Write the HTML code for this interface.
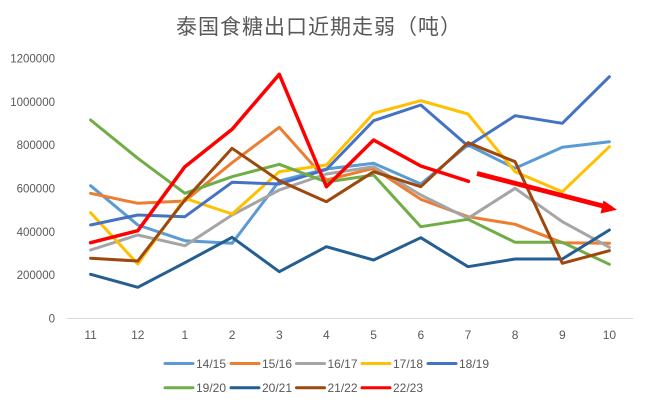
<!DOCTYPE html>
<html><head><meta charset="utf-8"><style>
html,body{margin:0;padding:0;background:#fff;}
svg{display:block;}
text{font-family:"Liberation Sans","Noto Sans CJK SC",sans-serif;fill:#595959;}
</style></head><body>
<svg width="649" height="407" viewBox="0 0 649 407" xmlns="http://www.w3.org/2000/svg">
<rect width="649" height="407" fill="#fff"/>
<text x="319" y="34" text-anchor="middle" font-size="21" letter-spacing="1" style="font-family:'Noto Sans CJK SC','WenQuanYi Zen Hei',sans-serif">泰国食糖出口近期走弱（吨）</text>
<g font-size="11.5" text-anchor="end">
<text x="55" y="322.5">0</text>
<text x="55" y="279.2">200000</text>
<text x="55" y="235.8">400000</text>
<text x="55" y="192.5">600000</text>
<text x="55" y="149.2">800000</text>
<text x="55" y="105.8">1000000</text>
<text x="55" y="62.5">1200000</text>
</g>
<line x1="67" y1="318.5" x2="633" y2="318.5" stroke="#D9D9D9" stroke-width="1"/>
<g font-size="12" text-anchor="middle">
<text x="90.6" y="339">11</text><text x="137.8" y="339">12</text><text x="184.9" y="339">1</text><text x="232.1" y="339">2</text><text x="279.3" y="339">3</text><text x="326.4" y="339">4</text><text x="373.6" y="339">5</text><text x="420.8" y="339">6</text><text x="468" y="339">7</text><text x="515.1" y="339">8</text><text x="562.3" y="339">9</text><text x="609.4" y="339">10</text>
</g>
<g fill="none" stroke-width="3" stroke-linejoin="round" stroke-linecap="round">
<polyline stroke="#5B9BD5" points="90.6,185.7 137.8,225 184.9,240.7 232.1,243.3 279.3,181 326.4,169 373.6,163.3 420.8,184 468,145 515.1,168.3 562.3,147.3 609.4,141.7"/>
<polyline stroke="#ED7D31" points="90.6,193.3 137.8,203.3 184.9,201 232.1,162.7 279.3,127.3 326.4,180 373.6,168.3 420.8,199.3 468,216.7 515.1,224.3 562.3,242.7 609.4,243.3"/>
<polyline stroke="#A5A5A5" points="90.6,250 137.8,235 184.9,245.7 232.1,215 279.3,190 326.4,174 373.6,166.7 420.8,195 468,218.3 515.1,188.3 562.3,221.7 609.4,247.3"/>
<polyline stroke="#FFC000" points="90.6,212.7 137.8,264 184.9,198.3 232.1,214 279.3,171.7 326.4,165 373.6,113.3 420.8,100.7 468,114 515.1,171.7 562.3,191.7 609.4,146.7"/>
<polyline stroke="#4472C4" points="90.6,225 137.8,215 184.9,216.7 232.1,182.3 279.3,184 326.4,169.5 373.6,120.7 420.8,105 468,146 515.1,115.7 562.3,123.3 609.4,76.7"/>
<polyline stroke="#70AD47" points="90.6,120 137.8,158.3 184.9,193.3 232.1,176.7 279.3,164.3 326.4,182 373.6,175 420.8,226.7 468,219.3 515.1,242.3 562.3,242.3 609.4,264.3"/>
<polyline stroke="#255E91" points="90.6,274.3 137.8,287.3 184.9,262.7 232.1,237.3 279.3,271.7 326.4,246.7 373.6,260 420.8,237.7 468,266.7 515.1,259 562.3,259 609.4,230"/>
<polyline stroke="#9E480E" points="90.6,258.3 137.8,261 184.9,200 232.1,148.3 279.3,180.7 326.4,201.7 373.6,171.7 420.8,186.7 468,142.7 515.1,161.7 562.3,263.3 609.4,250.7"/>
<polyline stroke="#FF0000" stroke-width="3.5" points="90.6,242.7 137.8,230.7 184.9,166.7 232.1,129.3 279.3,74.3 326.4,186.7 373.6,140 420.8,166 468.5,181.3"/>
</g>
<line x1="477" y1="173.5" x2="606" y2="206.8" stroke="#FF0000" stroke-width="4.8" stroke-linecap="butt"/>
<polygon points="617,209.8 603.5,200.5 600.5,213.5" fill="#FF0000"/>
<g stroke-width="3" stroke-linecap="round">
<line x1="165" y1="363.5" x2="193" y2="363.5" stroke="#5B9BD5"/>
<line x1="231" y1="363.5" x2="259" y2="363.5" stroke="#ED7D31"/>
<line x1="296.5" y1="363.5" x2="324.5" y2="363.5" stroke="#A5A5A5"/>
<line x1="362" y1="363.5" x2="390" y2="363.5" stroke="#FFC000"/>
<line x1="428" y1="363.5" x2="456" y2="363.5" stroke="#4472C4"/>
<line x1="165" y1="387.8" x2="193" y2="387.8" stroke="#70AD47"/>
<line x1="231" y1="387.8" x2="259" y2="387.8" stroke="#255E91"/>
<line x1="296.5" y1="387.8" x2="324.5" y2="387.8" stroke="#9E480E"/>
<line x1="362" y1="387.8" x2="390" y2="387.8" stroke="#FF0000"/>
</g>
<g font-size="12">
<text x="196" y="367.8">14/15</text>
<text x="262" y="367.8">15/16</text>
<text x="327.5" y="367.8">16/17</text>
<text x="393" y="367.8">17/18</text>
<text x="459" y="367.8">18/19</text>
<text x="196" y="392">19/20</text>
<text x="262" y="392">20/21</text>
<text x="327.5" y="392">21/22</text>
<text x="393" y="392">22/23</text>
</g>
</svg>
</body></html>
